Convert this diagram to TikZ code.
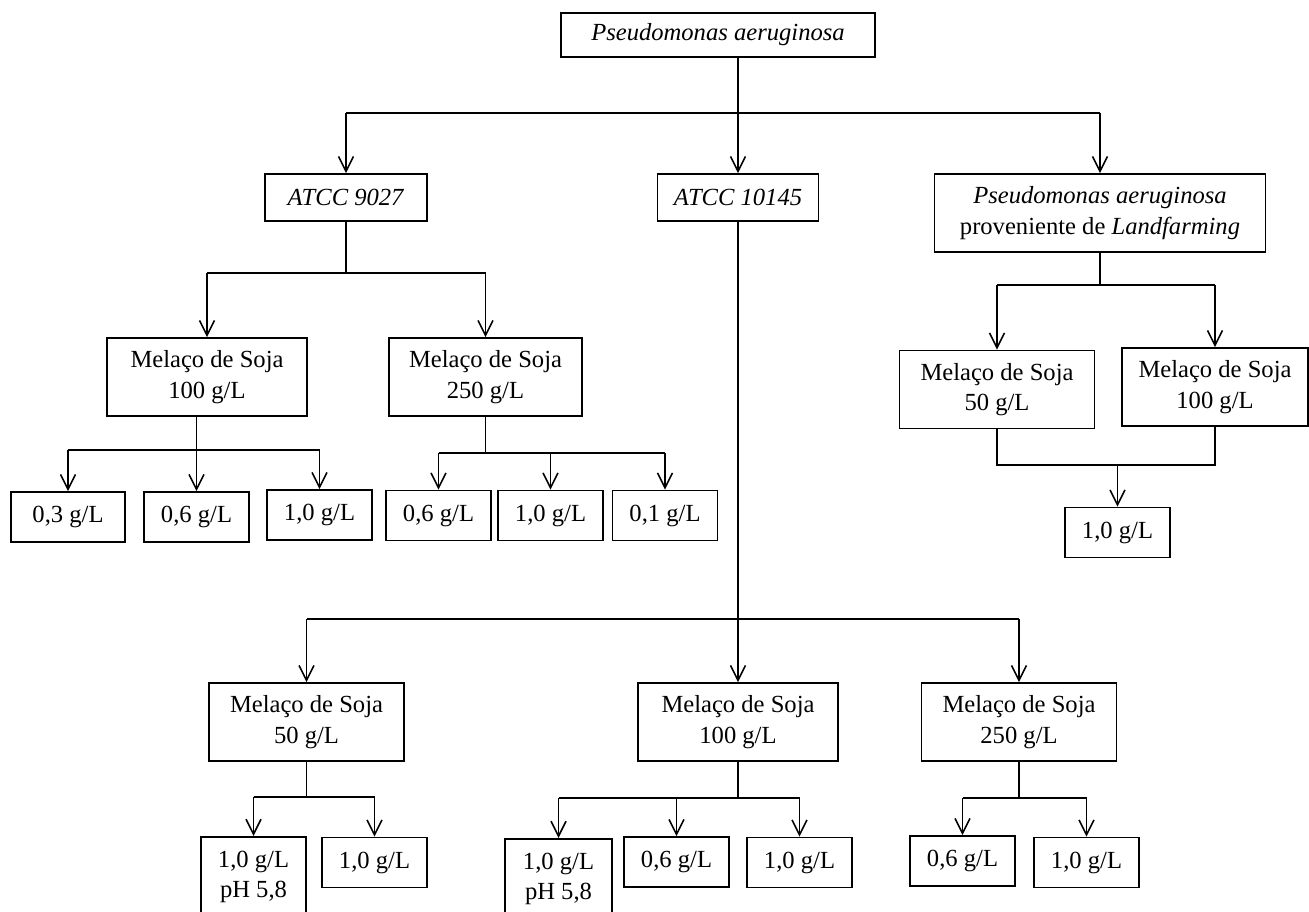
\documentclass[tikz,border=0pt]{standalone}
\usepackage{fontspec}
\setmainfont{Liberation Serif}
\usetikzlibrary{
    arrows.meta % Para as pontas de seta abertas
}

\begin{document}
\begin{tikzpicture}[x=0.02cm, y=-0.02cm] % 1 unidade = 1 pixel da figura

    % --- Definição de Estilos ---
    \tikzset{
        % Caixa base de todos os nós
        base_box/.style={
            draw,
            rectangle,
            line width=0.9pt,
            align=center,
            inner sep=2pt,
            font=\fontsize{14}{17.5}\selectfont
        },
        % Cepas
        strain_box/.style={base_box, minimum height=0.94cm},
        % Melaço de soja
        melaco_box/.style={base_box, minimum width=3.9cm, minimum height=1.56cm},
        % Concentrações
        conc_box/.style={base_box, minimum width=2.1cm, minimum height=1cm},
        % Linhas e setas
        flow_line/.style={line width=0.9pt},
        flow_arrow/.style={flow_line, -{Straight Barb[length=3mm, width=3mm]}}
    }

    \clip (0,0) rectangle (1309,912);

    % --- Cepas ---
    \node[strain_box, minimum width=6.28cm, minimum height=0.88cm] (root) at (718,35) {\textit{Pseudomonas aeruginosa}};
    \node[strain_box, minimum width=3.24cm] (atcc9027) at (346,197.5) {\textit{ATCC 9027}};
    \node[strain_box, minimum width=3.22cm] (atcc10145) at (738,197.5) {\textit{ATCC 10145}};
    \node[strain_box, minimum width=6.62cm, minimum height=1.56cm] (landfarm) at (1100,213) {\textit{Pseudomonas aeruginosa}\\ proveniente de \textit{Landfarming}};

    % --- Melaço de Soja ---
    \node[melaco_box, minimum width=4cm] (melA100) at (207,377) {Melaço de Soja\\100 g/L};
    \node[melaco_box, minimum width=3.86cm] (melA250) at (485.5,377) {Melaço de Soja\\250 g/L};
    \node[melaco_box] (melL50) at (997,389.5) {Melaço de Soja\\50 g/L};
    \node[melaco_box, minimum width=3.72cm] (melL100) at (1215,387) {Melaço de Soja\\100 g/L};
    \node[melaco_box] (melB50) at (306.5,722) {Melaço de Soja\\50 g/L};
    \node[melaco_box, minimum width=4cm] (melB100) at (738,722) {Melaço de Soja\\100 g/L};
    \node[melaco_box] (melB250) at (1019,722) {Melaço de Soja\\250 g/L};

    % --- Concentrações ---
    \node[conc_box, minimum width=2.28cm] (a1) at (68,517) {0,3 g/L};
    \node[conc_box] (a2) at (196.5,517) {0,6 g/L};
    \node[conc_box] (a3) at (319.5,515) {1,0 g/L};
    \node[conc_box] (b1) at (438.5,515.5) {0,6 g/L};
    \node[conc_box] (b2) at (550.5,515.5) {1,0 g/L};
    \node[conc_box] (b3) at (665,515.5) {0,1 g/L};
    \node[conc_box] (c1) at (1117.5,532.5) {1,0 g/L};
    \node[conc_box, anchor=north, minimum height=1.8cm, text depth=0.3cm] (d1) at (253.5,836) {1,0 g/L\\pH 5,8};
    \node[conc_box] (d2) at (374.5,862.5) {1,0 g/L};
    \node[conc_box, anchor=north, minimum width=2.14cm, minimum height=1.8cm, text depth=0.3cm] (e1) at (558.5,838) {1,0 g/L\\pH 5,8};
    \node[conc_box] (e2) at (676.5,862) {0,6 g/L};
    \node[conc_box] (e3) at (799.5,862.5) {1,0 g/L};
    \node[conc_box] (f1) at (962.5,861) {0,6 g/L};
    \node[conc_box] (f2) at (1086.5,862.5) {1,0 g/L};

    % --- Raiz -> cepas ---
    \coordinate (bus1) at (738,113);
    \draw[flow_line] (root.south -| bus1) -- (bus1);
    \draw[flow_line] (bus1 -| atcc9027) -- (bus1 -| landfarm);
    \foreach \n in {atcc9027, atcc10145, landfarm}
        \draw[flow_arrow] (bus1 -| \n.north) -- (\n.north);

    % --- ATCC 9027 ---
    \coordinate (bus2) at (0,273);
    \draw[flow_line] (atcc9027.south) -- (bus2 -| atcc9027);
    \draw[flow_line] (bus2 -| melA100) -- (bus2 -| melA250);
    \foreach \n in {melA100, melA250}
        \draw[flow_arrow] (bus2 -| \n.north) -- (\n.north);

    \coordinate (bus3) at (0,450);
    \draw[flow_line] (melA100.south -| a2) -- (bus3 -| a2);
    \draw[flow_line] (bus3 -| a1) -- (bus3 -| a3);
    \foreach \n in {a1, a2, a3}
        \draw[flow_arrow] (bus3 -| \n.north) -- (\n.north);

    \coordinate (bus4) at (0,453);
    \draw[flow_line] (melA250.south) -- (bus4 -| melA250);
    \draw[flow_line] (bus4 -| b1) -- (bus4 -| b3);
    \foreach \n in {b1, b2, b3}
        \draw[flow_arrow] (bus4 -| \n.north) -- (\n.north);

    % --- Landfarming ---
    \coordinate (busL) at (0,285);
    \draw[flow_line] (landfarm.south) -- (busL -| landfarm);
    \draw[flow_line] (busL -| melL50) -- (busL -| melL100);
    \foreach \n in {melL50, melL100}
        \draw[flow_arrow] (busL -| \n.north) -- (\n.north);

    \coordinate (joinL) at (0,465);
    \draw[flow_line] (melL50.south) -- (joinL -| melL50) -- (joinL -| melL100) -- (melL100.south);
    \draw[flow_arrow] (joinL -| c1.north) -- (c1.north);

    % --- ATCC 10145 ---
    \coordinate (bus5) at (0,619);
    \draw[flow_arrow] (atcc10145.south) -- (melB100.north);
    \draw[flow_line] (bus5 -| melB50) -- (bus5 -| melB250);
    \foreach \n in {melB50, melB250}
        \draw[flow_arrow] (bus5 -| \n.north) -- (\n.north);

    \coordinate (bus6) at (0,797);
    \draw[flow_line] (melB50.south) -- (bus6 -| melB50);
    \draw[flow_line] (bus6 -| d1) -- (bus6 -| d2);
    \foreach \n in {d1, d2}
        \draw[flow_arrow] (bus6 -| \n.north) -- (\n.north);

    \coordinate (bus7) at (0,798);
    \draw[flow_line] (melB100.south) -- (bus7 -| melB100);
    \draw[flow_line] (bus7 -| e1) -- (bus7 -| e3);
    \foreach \n in {e1, e2, e3}
        \draw[flow_arrow] (bus7 -| \n.north) -- (\n.north);

    \coordinate (bus8) at (0,798);
    \draw[flow_line] (melB250.south) -- (bus8 -| melB250);
    \draw[flow_line] (bus8 -| f1) -- (bus8 -| f2);
    \foreach \n in {f1, f2}
        \draw[flow_arrow] (bus8 -| \n.north) -- (\n.north);

\end{tikzpicture}
\end{document}
